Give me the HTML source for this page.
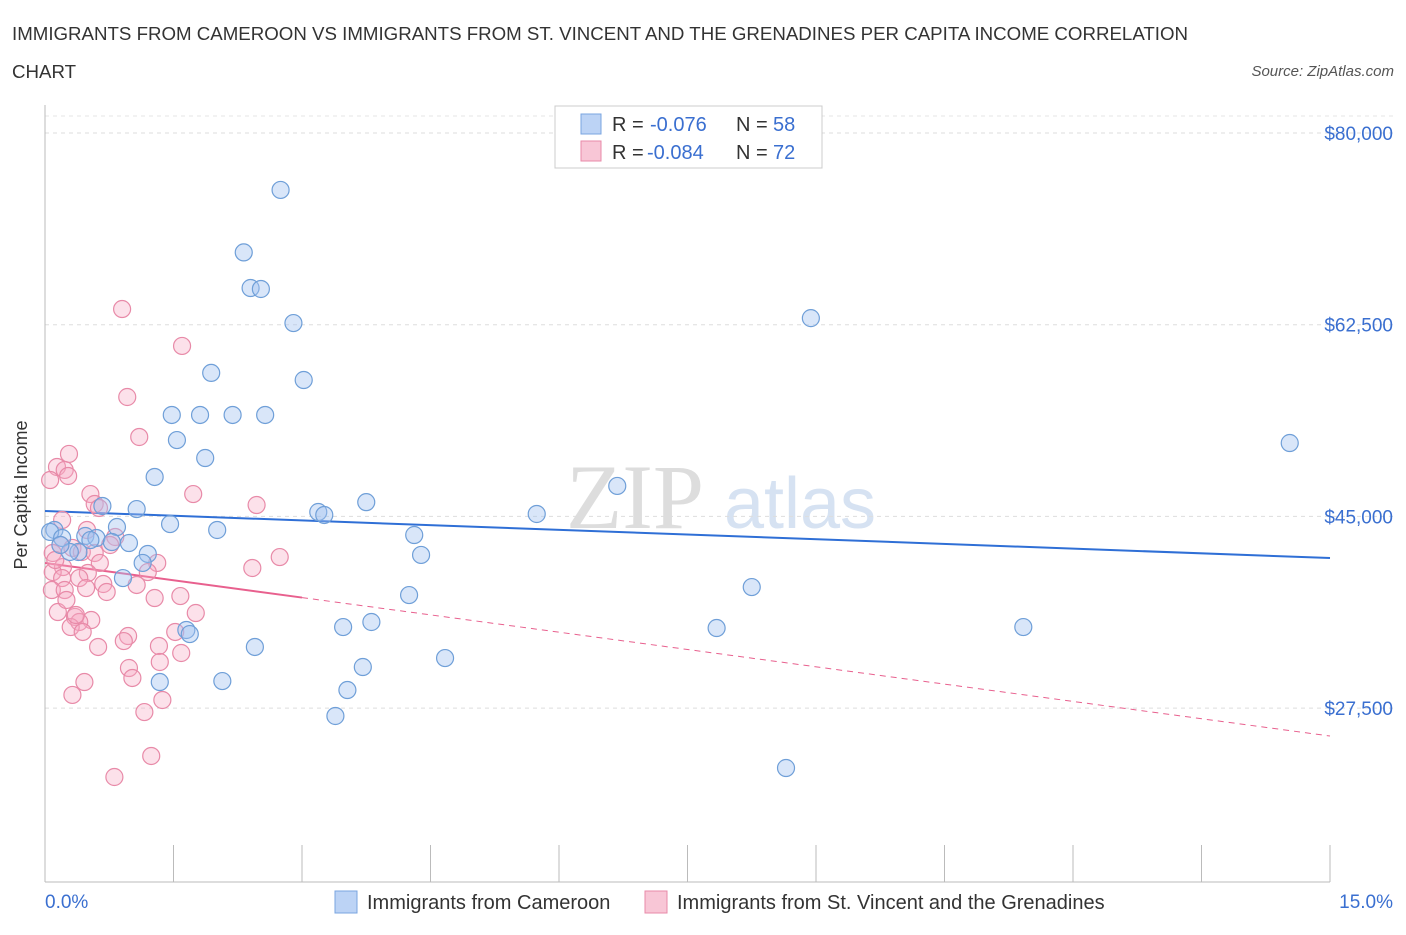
<!DOCTYPE html>
<html><head><meta charset="utf-8"><style>
body{margin:0;background:#fff;font-family:"Liberation Sans",sans-serif;}
</style></head><body>
<svg id="chart" width="1406" height="930" xmlns="http://www.w3.org/2000/svg">
<text x="12" y="40" font-size="18.7" fill="#333">IMMIGRANTS FROM CAMEROON VS IMMIGRANTS FROM ST. VINCENT AND THE GRENADINES PER CAPITA INCOME CORRELATION</text>
<text x="12" y="78" font-size="18.7" fill="#333">CHART</text>
<text x="1394" y="76" font-size="15" fill="#555" font-style="italic" text-anchor="end">Source: ZipAtlas.com</text>
<text x="27" y="495" font-size="18" fill="#333" transform="rotate(-90 27 495)" text-anchor="middle">Per Capita Income</text>
<g><text x="635" y="528" font-size="92" fill="#ddd" font-family="Liberation Serif,serif" text-anchor="middle">ZIP</text><text x="800" y="528" font-size="72" fill="#d6e2f2" text-anchor="middle">atlas</text></g>
<g id="grid"></g><g id="axes"></g><g id="trends"></g><g id="pts"></g>
<g>
<rect x="555" y="106" width="267" height="62" fill="#fff" stroke="#ccc"/>
<rect x="581" y="114" width="20" height="20" fill="#bcd3f5" stroke="#7aa5e0"/>
<text x="612" y="131" font-size="20" fill="#333">R =</text><text x="650" y="131" font-size="20" fill="#3a6fd0">-0.076</text>
<text x="736" y="131" font-size="20" fill="#333">N =</text><text x="773" y="131" font-size="20" fill="#3a6fd0">58</text>
<rect x="581" y="141" width="20" height="20" fill="#f8c6d6" stroke="#e88aa8"/>
<text x="612" y="159" font-size="20" fill="#333">R =</text><text x="647" y="159" font-size="20" fill="#3a6fd0">-0.084</text>
<text x="736" y="159" font-size="20" fill="#333">N =</text><text x="773" y="159" font-size="20" fill="#3a6fd0">72</text>
</g>
<g>
<rect x="335" y="891" width="22" height="22" fill="#bcd3f5" stroke="#7aa5e0"/>
<text x="367" y="909" font-size="20" fill="#333">Immigrants from Cameroon</text>
<rect x="645" y="891" width="22" height="22" fill="#f8c6d6" stroke="#e88aa8"/>
<text x="677" y="909" font-size="20" fill="#333">Immigrants from St. Vincent and the Grenadines</text>
</g>
</svg>
<script>
const yTicks=[80000,62500,45000,27500];
const yTickLabels=["$80,000","$62,500","$45,000","$27,500"];
const xTickLabels=["0.0%","15.0%"];
const blueX=[2.75,2.32,2.40,2.52,2.90,8.94,1.94,3.02,1.48,1.81,2.19,2.57,1.54,1.87,14.53,1.28,6.68,3.75,1.07,3.19,3.26,5.74,0.67,1.46,2.01,0.84,0.11,0.06,4.31,0.20,0.47,0.60,0.78,0.98,1.20,4.39,0.39,1.14,0.91,8.25,4.25,1.65,1.69,3.48,3.81,7.84,11.42,2.45,3.71,4.67,1.34,2.07,3.53,3.39,8.65,0.29,0.53,0.18];
const blueY=[74800,69100,65850,65760,62650,63100,58100,57450,54260,54260,54260,54260,51970,50330,51700,48600,47780,46300,45670,45400,45130,45220,45950,44300,43760,44030,43760,43580,43300,43030,43210,43030,42660,42570,41570,41480,41750,40750,39370,38550,37820,34630,34260,34900,35360,34810,34900,33080,31250,32070,29880,29970,29150,26780,22030,41750,42840,42390];
const pinkX=[0.90,1.60,0.96,1.10,0.28,0.14,0.23,0.27,0.06,1.73,0.53,0.58,2.47,0.63,0.20,0.49,0.82,0.18,0.32,0.09,0.43,0.58,2.74,0.64,1.31,0.21,0.09,1.20,0.50,0.20,2.42,0.40,0.68,1.07,0.08,0.23,0.72,0.48,1.28,1.58,1.76,0.15,0.35,0.54,0.40,0.30,0.44,0.97,0.62,0.92,1.52,1.33,1.59,0.98,1.34,1.02,0.46,0.32,1.37,1.16,1.24,0.81,0.12,0.76,0.25,0.36];
const pinkY=[63930,60560,55900,52250,50700,49510,49240,48690,48320,47040,47040,46130,46040,45770,44670,43760,43120,42390,42120,41660,41750,41660,41290,40750,40750,40380,39920,39920,39830,39370,40290,39370,38830,38740,38280,38280,38100,38460,37550,37730,36180,36270,35820,35540,35360,34900,34450,34080,33080,33620,34450,33170,32530,31160,31710,30250,29880,28700,28240,27140,23130,21210,41020,42390,37370,36000];
const blueTrend=[45490,41200];
const pinkTrend=[40750,24950];
const pinkSolidEnd=3;
const X=v=>45+v/15*1285;
const Y=v=>133+(80000-v)*191.7/17500;
const NS="http://www.w3.org/2000/svg";
function mk(p,t,a){const e=document.createElementNS(NS,t);for(const k in a)e.setAttribute(k,a[k]);p.appendChild(e);return e;}
const grid=document.getElementById('grid'),axes=document.getElementById('axes'),tr=document.getElementById('trends'),pts=document.getElementById('pts');
yTicks.forEach((v,i)=>{
 const l=mk(grid,'line',{x1:45,x2:1394,y1:Y(v),y2:Y(v),stroke:'#ddd','stroke-dasharray':'4,4'});
 
 
 const t=mk(axes,'text',{x:1393,y:Y(v)+7,'font-size':19,fill:'#3a6fd0','text-anchor':'end'});t.textContent=yTickLabels[i];
 
 
});
mk(grid,'line',{x1:45,x2:1394,y1:116,y2:116,stroke:'#e6e6e6','stroke-dasharray':'4,4'});
const ya=mk(axes,'line',{x1:45,x2:45,y1:105,y2:882,stroke:'#bbb'});


const xa=mk(axes,'line',{x1:45,x2:1330,y1:882,y2:882,stroke:'#bbb'});


for(let i=0;i<=10;i++){const t=mk(axes,'line',{x1:X(i*1.5),x2:X(i*1.5),y1:845,y2:882,stroke:'#bbb'});
 
 }
[[0,'start',45],[15,'end',1393]].forEach((d,i)=>{const t=mk(axes,'text',{x:d[2],y:908,'font-size':19,fill:'#3a6fd0','text-anchor':d[1]});t.textContent=xTickLabels[i];
 
 });
function dot(x,y,f,s,n){const c=mk(pts,'circle',{cx:X(x),cy:Y(y),r:8.5,fill:f,stroke:s,'stroke-width':1.2});
 
 }
pinkX.forEach((x,i)=>dot(x,pinkY[i],'rgba(246,170,196,0.35)','#e88aa8','point-stvincent'));
blueX.forEach((x,i)=>dot(x,blueY[i],'rgba(160,192,240,0.4)','#6f9fd8','point-cameroon'));
const bt=mk(tr,'line',{x1:X(0),y1:Y(blueTrend[0]),x2:X(15),y2:Y(blueTrend[1]),stroke:'#2f6fd6','stroke-width':2});


const py=x=>pinkTrend[0]+(pinkTrend[1]-pinkTrend[0])*x/15;
const ps=mk(tr,'line',{x1:X(0),y1:Y(py(0)),x2:X(pinkSolidEnd),y2:Y(py(pinkSolidEnd)),stroke:'#e8608e','stroke-width':2});


const pd=mk(tr,'line',{x1:X(pinkSolidEnd),y1:Y(py(pinkSolidEnd)),x2:X(15),y2:Y(py(15)),stroke:'#e8608e','stroke-width':1,'stroke-dasharray':'6,5'});


</script>
</body></html>
